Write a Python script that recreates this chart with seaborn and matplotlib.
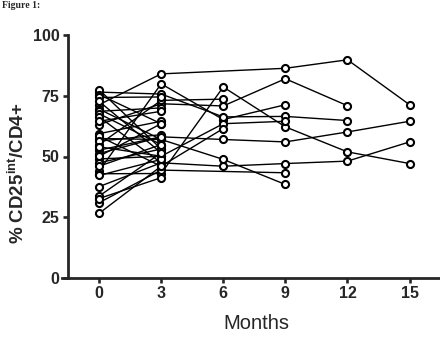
import numpy as np
import pandas as pd
import matplotlib
matplotlib.use('Agg')
import matplotlib.pyplot as plt
import seaborn as sns

# #
# Data: % CD25int/CD4+ per patient at each visit (nan = no sample)
nan = np.nan
months = [0, 3, 6, 9, 12, 15]

m0 = [71.3, 44.0, 42.9, 63.1, 52.6, 37.6, 76.5, 49.0, 57.4, 31.0, 54.9, 26.6,
      77.5, 75.5, 74.3, 72.7, 69.5, 68.6, 67.6, 66.3, 64.5, 59.4, 58.3, 56.3,
      54.0, 51.2, 50.1, 47.4, 46.0, 42.2, 33.7, 32.7]
m3 = [84.0, 79.9, 43.0, 71.7, 58.1, 47.4, 75.7, 50.1, 57.0, 44.4, 73.1, 46.0,
      53.1, 63.5, 74.5, 51.5, 57.0, 70.0, 54.9, 47.4, 68.6, 64.5, 46.0, 59.0,
      50.1, 58.1, 63.5, 53.1, 54.9, 48.8, 51.5, 41.3]
m6 = [nan, 65.2, 78.6, 70.8, 57.0, 46.0, 66.3, 63.5, 48.8, nan, 73.6, 61.5] + [nan] * 20
m9 = [86.3, 71.3, 62.2, 82.0, 56.0, 47.1, 66.5, 64.5, 38.5, 43.3, nan, nan] + [nan] * 20
m12 = [89.8, nan, 51.9, 70.9, 60.1, 48.1, 64.8, nan, nan, nan, nan, nan] + [nan] * 20
m15 = [71.3, nan, 47.1, nan, 64.5, 56.0, nan, nan, nan, nan, nan, nan] + [nan] * 20

# long format, one row per sample
rows = []
for i, vals in enumerate(zip(m0, m3, m6, m9, m12, m15)):
    for month, v in zip(months, vals):
        if not np.isnan(v):
            rows.append({'patient': i, 'month': month, 'pct': v})
data = pd.DataFrame(rows)

# #
# Plot
sns.set_style('ticks')
plt.rcParams['font.family'] = ['Liberation Sans', 'DejaVu Sans']
plt.rcParams['mathtext.fontset'] = 'custom'
plt.rcParams['mathtext.rm'] = 'Liberation Sans'
plt.rcParams['mathtext.bf'] = 'Liberation Sans:bold'

fig = plt.figure(figsize=(4.4, 3.38), dpi=100)
ax = fig.add_axes([62 / 440, 1 - 278 / 338, 1 - 62 / 440, (278 - 35) / 338])

sns.lineplot(data=data, x='month', y='pct', units='patient', estimator=None,
             color='black', lw=1.0, ax=ax, zorder=2)
sns.scatterplot(data=data, x='month', y='pct', marker='o', s=26, facecolor='white',
                edgecolor='black', linewidth=1.5, ax=ax, zorder=3, clip_on=False)

ax.set_xlim(-1.79, 16.47)
ax.set_ylim(0, 100)
ax.set_xticks(months)
ax.set_yticks([0, 25, 50, 75, 100])
sns.despine(ax=ax)
ax.spines['left'].set_position(('data', -1.52))
for side in ['left', 'bottom']:
    ax.spines[side].set_linewidth(2.0)
ax.tick_params(direction='out', length=3.8, width=1.9, pad=2, labelsize=11.5)
for lab in ax.get_xticklabels() + ax.get_yticklabels():
    lab.set_fontweight('bold')

ax.set_xlabel('Months', fontsize=14.5)
ax.xaxis.set_label_coords(0.513, -0.15)
ax.set_ylabel(r'% CD25$^{\mathbf{int}}$/CD4+', fontsize=13.5, fontweight='bold')
ax.yaxis.set_label_coords(-0.09, 0.43)

# caption left over at the top of the source page
fig.text(0.005, 0.998, 'Figure 1:', fontsize=7, fontweight='bold',
         family='Liberation Serif', va='top')

fig.savefig('out.png', dpi=100)
plt.close()
